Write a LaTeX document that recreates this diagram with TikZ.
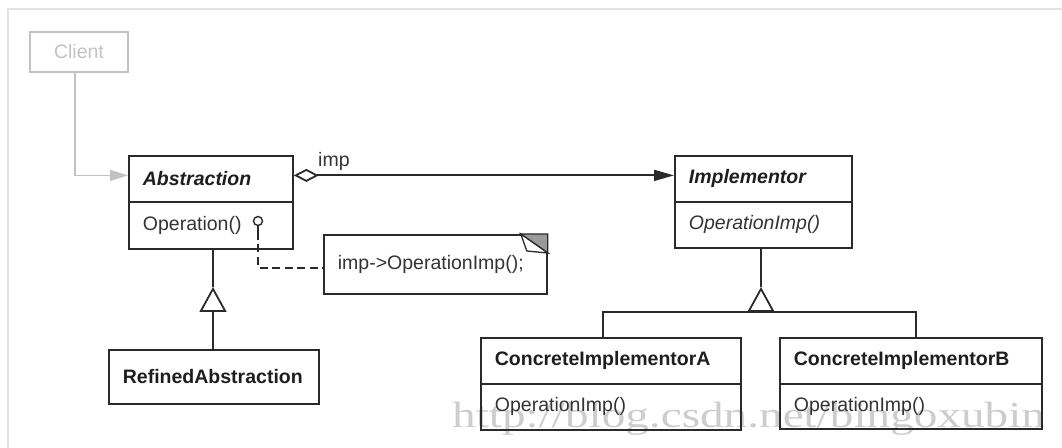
\documentclass[tikz,border=0pt]{standalone}
\usepackage{fontspec}
\setmainfont{Liberation Sans}
\newfontfamily\wmfont{Liberation Serif}
\usepackage{graphicx}
\usetikzlibrary{arrows.meta,calc}
\definecolor{linec}{HTML}{2A2A2A}
\definecolor{textc}{HTML}{1E1E1E}
\definecolor{bodyc}{HTML}{333333}
\definecolor{clientc}{HTML}{C2C2C2}
\definecolor{framec}{HTML}{E2E2E2}
\definecolor{wmc}{HTML}{CDCDCD}
\definecolor{earc}{HTML}{9A9A9A}
\begin{document}
\begin{tikzpicture}[x=1bp,y=-1bp,
  txt/.style={font=\fontsize{19.5bp}{23bp}\selectfont, text=textc},
  cls/.style={draw=linec, line width=1.8bp, txt, inner xsep=14bp, inner ysep=0pt,
              align=left, anchor=north west},
  conn/.style={draw=linec, line width=1.8bp},
  clientline/.style={draw=clientc, line width=1.6bp},
  gen/.style={-{Triangle[open, length=25bp, width=27bp]}},
]
\useasboundingbox (0,0) rectangle (1062,448);

% frame
\draw[framec, line width=2bp] (8,448) -- (8,9.5) -- (1062,9.5);

% watermark
\node[anchor=base west, inner sep=0pt, text=wmc,
      font=\wmfont\fontsize{36.6bp}{40bp}\selectfont] (wm) at (452,427)
      {\scalebox{1.29}[1]{http://blog.csdn.net/bingoxubin}};

% client
\node[draw=clientc, line width=1.4bp, txt, text=clientc, minimum width=98bp,
      minimum height=40bp, inner sep=0pt] (client) at (79,52) {Client};

% Abstraction
\node[cls, minimum width=164bp, minimum height=46bp, text width=136bp] (absH) at (128,155)
  {\textbf{\textit{Abstraction}}};
\node[cls, minimum width=164bp, minimum height=47bp, text width=136bp, text=bodyc] (absB) at (128,201)
  {Operation()};

% Implementor
\node[cls, minimum width=177bp, minimum height=46bp, text width=149bp] (implH) at (674,155)
  {\textbf{\textit{Implementor}}};
\node[cls, minimum width=177bp, minimum height=46bp, text width=149bp, text=bodyc] (implB) at (674,201)
  {\textit{OperationImp()}};

% RefinedAbstraction
\node[cls, minimum width=210bp, minimum height=54bp, text width=182bp] (refined) at (108,349)
  {\textbf{RefinedAbstraction}};

% Concrete implementors
\node[cls, minimum width=260bp, minimum height=46bp, text width=232bp] (concAH) at (480,337)
  {\textbf{ConcreteImplementorA}};
\node[cls, minimum width=260bp, minimum height=46bp, text width=232bp, text=bodyc] (concAB) at (480,383)
  {OperationImp()};
\node[cls, minimum width=262bp, minimum height=46bp, text width=234bp] (concBH) at (779,337)
  {\textbf{ConcreteImplementorB}};
\node[cls, minimum width=262bp, minimum height=45bp, text width=234bp, text=bodyc] (concBB) at (779,383)
  {OperationImp()};

% note
\node[cls, minimum width=223bp, minimum height=59bp, text width=195bp, text=bodyc] (note) at (323,234)
  {imp->OperationImp();};
\filldraw[fill=earc, draw=linec, line width=1.3bp]
  ($(note.north east)+(-27,0)$) -- (note.north east) -- ($(note.north east)+(0,19)$) -- cycle;
\filldraw[fill=white, draw=linec, line width=1.3bp]
  ($(note.north east)+(-27,0)$) -- ($(note.north east)+(-21,17)$) -- ($(note.north east)+(0,19)$) -- cycle;

% lollipop and dashed link
\node[circle, draw=linec, line width=1.4bp, minimum size=9bp, inner sep=0pt] (lol) at (258,221) {};
\coordinate (lolend) at (258,232);
\draw[conn, line width=1.4bp] (lol.south) -- (lolend);
\draw[conn, line width=1.5bp, dash pattern=on 8bp off 4.5bp] (lolend) |- ([yshift=-3.5bp]note.west);

% client -> abstraction
\draw[clientline, -{Triangle[length=18bp, width=11bp]}]
  ([xshift=-4bp]client.south) |- ([yshift=3.5bp]absH.west);

% aggregation
\draw[conn, {Diamond[open, length=25bp, width=13bp]}-{Triangle[length=20bp, width=11bp]}]
  ([yshift=3.5bp]absH.east) -- ([yshift=3.5bp]implH.west);
\node[txt, anchor=west, inner sep=0pt, text=bodyc] (implbl) at (318,161) {imp};

% generalization: Abstraction <- RefinedAbstraction
\coordinate (apex1) at (213,287);
\draw[conn, gen] (apex1 |- refined.north) -- (apex1);
\draw[conn] (apex1) -- (apex1 |- absB.south);

% generalization: Implementor <- concretes
\coordinate (apex2) at (761,287);
\coordinate (junc) at (761,312);
\coordinate (dropA) at (603,312);
\coordinate (dropB) at (916,312);
\draw[conn] (apex2) -- (apex2 |- implB.south);
\draw[conn, gen] (junc) -- (apex2);
\draw[conn] (dropA |- concAH.north) -- (dropA) -- (dropB) -- (dropB |- concBH.north);
\end{tikzpicture}
\end{document}
